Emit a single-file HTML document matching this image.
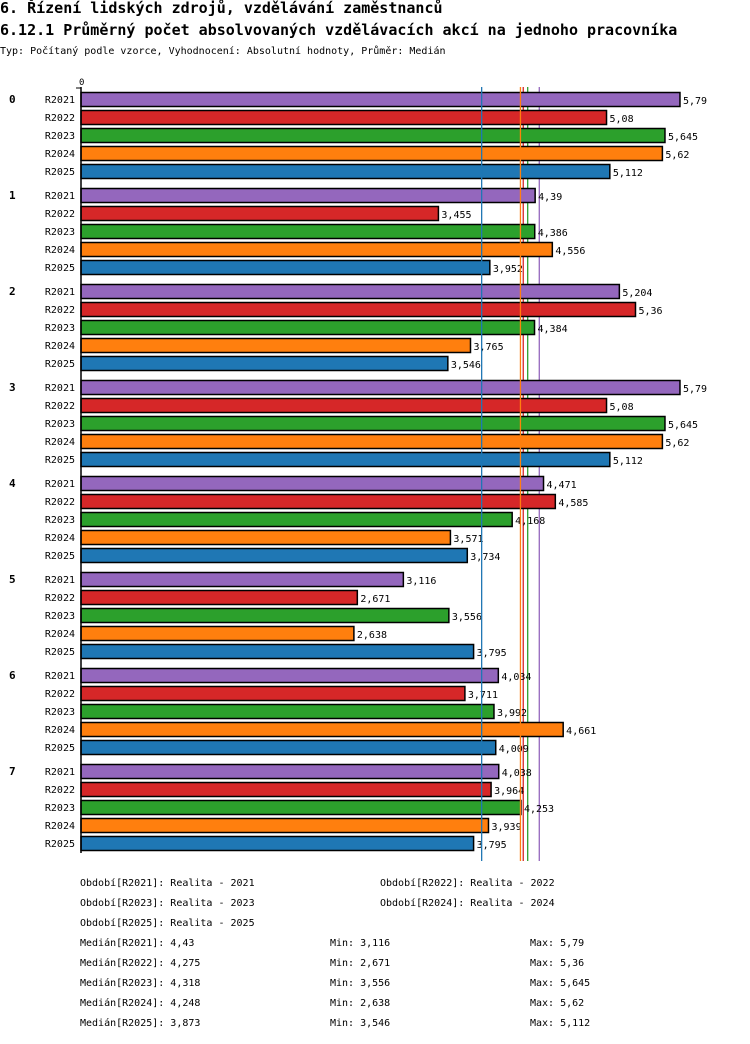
<!DOCTYPE html>
<html><head><meta charset="utf-8">
<style>
body{margin:0;background:#fff;width:750px;height:1040px;overflow:hidden;font-family:"DejaVu Sans Mono","Liberation Mono",monospace;}
svg text{font-family:"DejaVu Sans Mono","Liberation Mono",monospace;}
</style></head>
<body>
<svg id="c" width="750" height="1040">
<text x="0" y="13" font-size="15" font-weight="bold">6. Řízení lidských zdrojů, vzdělávání zaměstnanců</text>
<text x="0" y="35" font-size="15" font-weight="bold">6.12.1 Průměrný počet absolvovaných vzdělávacích akcí na jednoho pracovníka</text>
<text x="0" y="54" font-size="10">Typ: Počítaný podle vzorce, Vyhodnocení: Absolutní hodnoty, Průměr: Medián</text>
<g id="g"></g>
</svg>
<script>
const groups=["0","1","2","3","4","5","6","7"];
const series=["R2021","R2022","R2023","R2024","R2025"];
const colors=["#9467bd","#d62728","#2ca02c","#ff7f0e","#1f77b4"];
const values=[
[5.79,5.08,5.645,5.62,5.112],
[4.39,3.455,4.386,4.556,3.952],
[5.204,5.36,4.384,3.765,3.546],
[5.79,5.08,5.645,5.62,5.112],
[4.471,4.585,4.168,3.571,3.734],
[3.116,2.671,3.556,2.638,3.795],
[4.034,3.711,3.992,4.661,4.009],
[4.038,3.964,4.253,3.939,3.795]];
const medians=[4.43,4.275,4.318,4.248,3.873];
const mins=[3.116,2.671,3.556,2.638,3.546];
const maxs=[5.79,5.36,5.645,5.62,5.112];
const legend=["Realita - 2021","Realita - 2022","Realita - 2023","Realita - 2024","Realita - 2025"];
const NS="http://www.w3.org/2000/svg";
const g=document.getElementById('g');
const X0=81,K=103.45;
const xs=v=>X0+v*K;
const ys=(gi,si)=>92+gi*96+si*18;
const fmt=v=>String(v).replace('.',',');
function el(t,a,txt){const e=document.createElementNS(NS,t);for(const k in a)e.setAttribute(k,a[k]);if(txt!==undefined)e.textContent=txt;g.appendChild(e);return e;}
function mline(i){const l=el('line',{x1:xs(medians[i]),x2:xs(medians[i]),y1:87,y2:861,stroke:colors[i],'stroke-width':1.3});

}
[0,1,2].forEach(mline);
let t=el('text',{x:79,y:85,'font-size':9},'0');


groups.forEach((gn,gi)=>{
 const gl=el('text',{x:9,y:ys(gi,0)+11,'font-size':11,'font-weight':'bold'},gn);
 
 
 series.forEach((s,si)=>{
  const y=ys(gi,si),v=values[gi][si];
  const lb=el('text',{x:75,y:y+11,'font-size':10,'text-anchor':'end'},s);
  
  
  const r=el('rect',{x:X0,y:y+0.5,width:xs(v)-X0,height:14,fill:colors[si],stroke:'#000','stroke-width':1.5});
  
  
  const vt=el('text',{x:xs(v)+3,y:y+12,'font-size':10},fmt(v));
  
  
 });
});
[3,4].forEach(mline);
const ax=el('line',{x1:X0,x2:X0,y1:87,y2:853,stroke:'#000','stroke-width':1.5});


const ax2=el('line',{x1:76,x2:X0,y1:88,y2:88,stroke:'#000','stroke-width':1});


series.forEach((s,i)=>{
 const x=i%2?380:80,y=886+Math.floor(i/2)*20;
 const l=el('text',{x:x,y:y,'font-size':10},'Období['+s+']: '+legend[i]);
 
 
 const y2=946+i*20;
 const a=el('text',{x:80,y:y2,'font-size':10},'Medián['+s+']: '+fmt(medians[i]));
 
 
 const b=el('text',{x:330,y:y2,'font-size':10},'Min: '+fmt(mins[i]));
 
 
 const c=el('text',{x:530,y:y2,'font-size':10},'Max: '+fmt(maxs[i]));
 
 
});
</script>
</body></html>
